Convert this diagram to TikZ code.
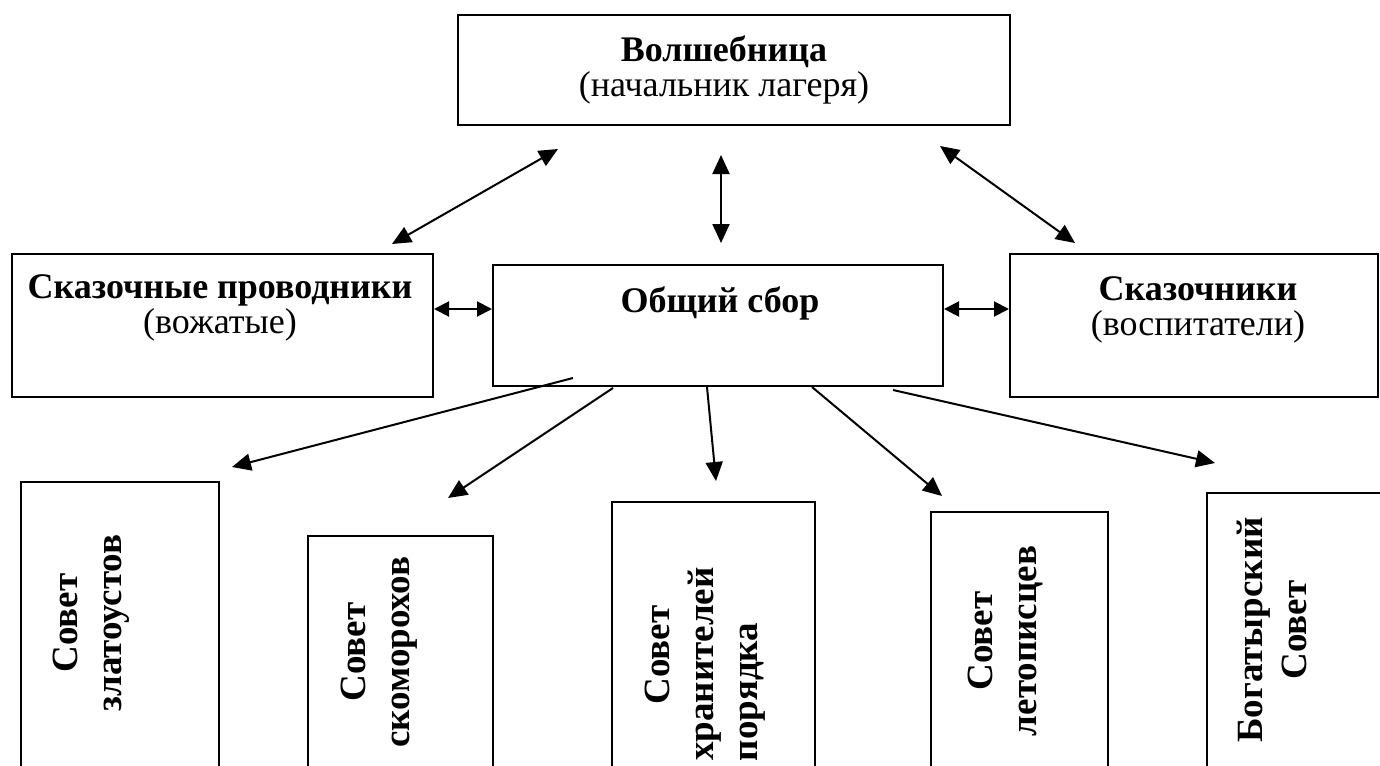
\documentclass[tikz,border=0pt]{standalone}
\usepackage{fontspec}
\setmainfont{Liberation Serif}
\usetikzlibrary{arrows.meta}
\begin{document}
\begin{tikzpicture}[x=1pt,y=-1pt,
  box/.style={draw, line width=2pt, inner sep=0pt, rectangle},
  txt/.style={inner sep=0pt, align=center, font=\fontsize{36}{35}\selectfont},
  vtxt/.style={inner sep=0pt, align=center, rotate=90, font=\fontsize{37}{44}\selectfont\bfseries},
  arr/.style={line width=2pt, -{Triangle[length=19pt,width=17pt]}},
  darr/.style={line width=2pt, {Triangle[length=19pt,width=17pt]}-{Triangle[length=19pt,width=17pt]}},
  harr/.style={line width=2pt, {Triangle[length=15pt,width=15pt]}-{Triangle[length=15pt,width=15pt]}}
]
\useasboundingbox (0,0) rectangle (1380,765);
\clip (0,0) rectangle (1380,765);
\fill[white] (0,0) rectangle (1380,765);

% boxes
\node[box, minimum width=552pt, minimum height=110pt] (top) at (734,70) {};
\node[box, minimum width=421pt, minimum height=143pt] (left) at (222.5,325.5) {};
\node[box, minimum width=450pt, minimum height=121pt] (mid) at (718,325.5) {};
\node[box, minimum width=368pt, minimum height=143pt] (right) at (1194,325.5) {};
\node[box, minimum width=198pt, minimum height=318pt] (b1) at (120,641) {};
\node[box, minimum width=185pt, minimum height=264pt] (b2) at (400.5,668) {};
\node[box, minimum width=203pt, minimum height=298pt] (b3) at (713.5,651) {};
\node[box, minimum width=177pt, minimum height=288pt] (b4) at (1019.5,656) {};
\node[box, minimum width=183pt, minimum height=307pt] (b5) at (1298.5,646.5) {};

% texts
\node[txt, anchor=base] (ttop) at (724,97) {\textbf{Волшебница}\\(начальник лагеря)};
\node[txt, anchor=base] (tleft) at (220,333) {\textbf{Сказочные проводники}\\(вожатые)};
\node[txt, anchor=base, font=\fontsize{36}{35}\selectfont\bfseries] (tmid) at (720,312) {Общий сбор};
\node[txt, anchor=base] (tright) at (1198,335) {\textbf{Сказочники}\\(воспитатели)};

\node[vtxt] (t1) at (91,623) {Совет\\златоустов};
\node[vtxt] (t2) at (379,652) {Совет\\скоморохов};
\node[vtxt] (t3) at (705,655) {Совет\\хранителей\rule{18pt}{0pt}\\порядка\rule{74pt}{0pt}};
\node[vtxt] (t4) at (1005,641) {Совет\\летописцев};
\node[vtxt] (t5) at (1272,630) {Богатырский\\Совет};

% arrow end points
\coordinate (a1s) at (392,244); \coordinate (a1e) at (558,149);
\coordinate (a2s) at (721,243); \coordinate (a2e) at (721,155);
\coordinate (a3s) at (1075,243); \coordinate (a3e) at (940,146);
\coordinate (d1s) at (573,378); \coordinate (d1e) at (232,467);
\coordinate (d2s) at (613,388); \coordinate (d2e) at (448,498);
\coordinate (d3s) at (707,387); \coordinate (d3e) at (716,481);
\coordinate (d4s) at (812,387); \coordinate (d4e) at (942,496);
\coordinate (d5s) at (893,390); \coordinate (d5e) at (1215,463);

\draw[darr] (a1s) -- (a1e);
\draw[darr] (a2s) -- (a2e);
\draw[darr] (a3s) -- (a3e);
\draw[harr] (left.east |- 0,309) -- (mid.west |- 0,309);
\draw[harr] (mid.east |- 0,309) -- (right.west |- 0,309);

\draw[arr] (d1s) -- (d1e);
\draw[arr] (d2s) -- (d2e);
\draw[arr] (d3s) -- (d3e);
\draw[arr] (d4s) -- (d4e);
\draw[arr] (d5s) -- (d5e);
\end{tikzpicture}
\end{document}
